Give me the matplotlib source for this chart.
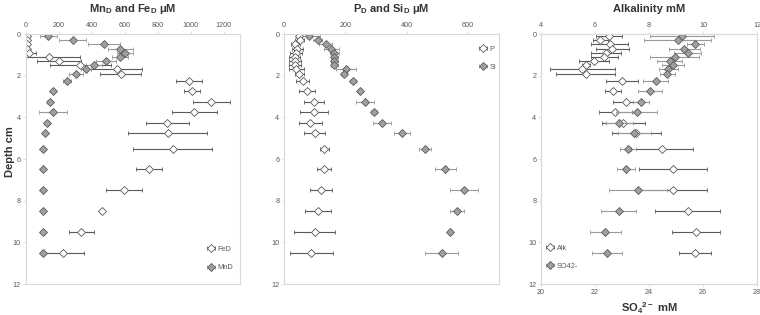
import matplotlib
matplotlib.use("Agg")
import matplotlib.pyplot as plt

depth = [0.1, 0.3, 0.5, 0.7, 0.9, 1.1, 1.3, 1.5, 1.7, 1.9, 2.25, 2.75,
         3.25, 3.75, 4.25, 4.75, 5.5, 6.5, 7.5, 8.5, 9.5, 10.5]

fe = [5, 5, 8, 10, 20, 138, 200, 330, 551, 576, 990, 1007, 1125, 1023,
      859, 861, 890, 746, 594, 460, 337, 223]
fe_err = [0, 0, 0, 0, 40, 190, 135, 185, 155, 125, 80, 50, 113, 135, 130,
          240, 240, 78, 108, 0, 77, 127]
mn = [136, 284, 474, 572, 602, 572, 486, 413, 365, 304, 249, 162, 146, 166,
      128, 115, 105, 105, 105, 105, 105, 105]
mn_err = [50, 80, 95, 75, 50, 50, 60, 50, 30, 45, 25, 0, 15, 85, 15, 10, 0,
          0, 0, 0, 0, 0]

p = [49, 50, 36, 43, 38, 34, 34, 34, 39, 49, 60, 74, 96, 96, 85, 99, 131,
     129, 120, 111, 99, 89]
p_err = [10, 15, 15, 18, 20, 18, 20, 20, 25, 15, 20, 25, 33, 46, 38, 35, 14,
         23, 35, 43, 67, 69]
si = [81, 109, 135, 154, 164, 164, 164, 164, 201, 195, 224, 246, 264, 293,
      319, 384, 459, 526, 587, 564, 540, 514]
si_err = [37, 15, 20, 25, 15, 10, 10, 10, 32, 10, 10, 0, 30, 10, 30, 27, 20,
          35, 47, 22, 0, 55]

alk = [6.51, 6.19, 6.54, 6.64, 6.40, 6.34, 5.96, 5.65, 5.53, 5.65, 7.0,
       6.66, 7.15, 6.75, 7.05, 7.53, 8.48, 8.88, 8.9, 9.43, 9.74, 9.71]
alk_err = [0.49, 0.28, 0.69, 0.6, 0.56, 0.5, 0.55, 0.15, 1.2, 1.1, 0.58,
           0.3, 0.5, 0.6, 0.8, 0.92, 1.16, 1.27, 1.25, 1.2, 0.9, 0.6]
so4 = [25.21, 25.06, 25.71, 25.31, 25.44, 24.95, 24.76, 24.89, 24.71,
       24.68, 24.24, 24.04, 23.71, 23.54, 22.89, 23.46, 23.21, 23.15, 23.6,
       22.88, 22.38, 22.43]
so4_err = [1.19, 1.25, 0.32, 0.58, 0.5, 0.9, 0.45, 0.4, 0.35, 0.27, 0.48,
           0.45, 0.3, 0.75, 0.5, 0.6, 0.3, 0.33, 1.08, 0.65, 0.58, 0.56]

plt.rcParams['font.family'] = ['Liberation Sans', 'DejaVu Sans']

TXT = '#595959'
FRAME = '#d9d9d9'
EDGE = '#5a5a5a'
GREY = '#a0a0a0'
LEG = dict(fontsize=5.3, frameon=False, handlelength=0.6, handletextpad=0.6,
           labelspacing=1.5, labelcolor=TXT)


def style_axis(ax, xlim, xticks):
    ax.set_xlim(*xlim)
    ax.set_xticks(xticks)
    ax.set_ylim(12, 0)
    ax.set_yticks(range(0, 13, 2))
    ax.xaxis.tick_top()
    ax.tick_params(labelsize=5.2, colors=TXT, length=2, width=0.5,
                   pad=1.5, color=FRAME)
    for s in ax.spines.values():
        s.set_color(FRAME)
        s.set_linewidth(0.8)


def series(ax, x, xerr, face, barcol, label):
    ax.errorbar(x, depth, xerr=xerr, fmt='D', ms=4.3, mfc=face, mec=EDGE,
                mew=0.6, ecolor=barcol, elinewidth=0.8, capsize=1.4,
                capthick=0.6, label=label)


fig = plt.figure(figsize=(7.6, 3.15), dpi=100)
ax1 = fig.add_axes([0.034, 0.098, 0.282, 0.794])
ax2 = fig.add_axes([0.374, 0.098, 0.282, 0.794])
ax3 = fig.add_axes([0.712, 0.098, 0.284, 0.794])

# Mn / Fe
style_axis(ax1, (0, 1300), range(0, 1201, 200))
series(ax1, fe, fe_err, 'white', EDGE, 'FeD')
series(ax1, mn, mn_err, GREY, '#9a9a9a', 'MnD')
ax1.set_title('Mn$_\\mathregular{D}$ and Fe$_\\mathregular{D}$ \u03bcM',
              fontsize=8, fontweight='bold', color='#333333', pad=16)
ax1.legend(loc='lower right', bbox_to_anchor=(1.0, 0.025), **LEG)

# P / Si
style_axis(ax2, (0, 700), range(0, 601, 200))
series(ax2, p, p_err, 'white', EDGE, 'P')
series(ax2, si, si_err, GREY, '#9a9a9a', 'Si')
ax2.set_title('P$_\\mathregular{D}$ and Si$_\\mathregular{D}$ \u03bcM',
              fontsize=8, fontweight='bold', color='#333333', pad=16)
ax2.legend(loc='upper right', bbox_to_anchor=(1.02, 0.98), **LEG)

# Alkalinity (top) / sulfate (bottom)
style_axis(ax3, (4, 12), range(4, 13, 2))
ax3b = ax3.twiny()
ax3.xaxis.tick_top()
ax3b.set_xlim(20, 28)
ax3b.set_xticks(range(20, 29, 2))
ax3b.xaxis.tick_bottom()
ax3b.xaxis.set_label_position('bottom')
ax3b.tick_params(labelsize=5.2, colors=TXT, length=2, width=0.5,
                 pad=1.5, color=FRAME)
for s in ax3b.spines.values():
    s.set_color(FRAME)
    s.set_linewidth(0.8)
series(ax3, alk, alk_err, 'white', EDGE, 'Alk')
ax3b.errorbar(so4, depth, xerr=so4_err, fmt='D', ms=4.3, mfc=GREY, mec=EDGE,
              mew=0.6, ecolor='#9a9a9a', elinewidth=0.8, capsize=1.4,
              capthick=0.6, label='SO42-')
ax3.set_title('Alkalinity mM', fontsize=8, fontweight='bold',
              color='#333333', pad=16)
ax3b.set_xlabel('SO$_\\mathregular{4}$$^\\mathregular{2-}$ mM', fontsize=8,
                fontweight='bold', color='#333333', labelpad=3)
h1, l1 = ax3.get_legend_handles_labels()
h2, l2 = ax3b.get_legend_handles_labels()
ax3b.legend(h1 + h2, l1 + l2, loc='lower left', bbox_to_anchor=(0.0, 0.03),
            **LEG)

fig.text(0.006, 0.52, 'Depth cm', rotation=90, ha='left', va='center',
         fontsize=8, fontweight='bold', color='#333333')

fig.savefig('out.png', dpi=100)
